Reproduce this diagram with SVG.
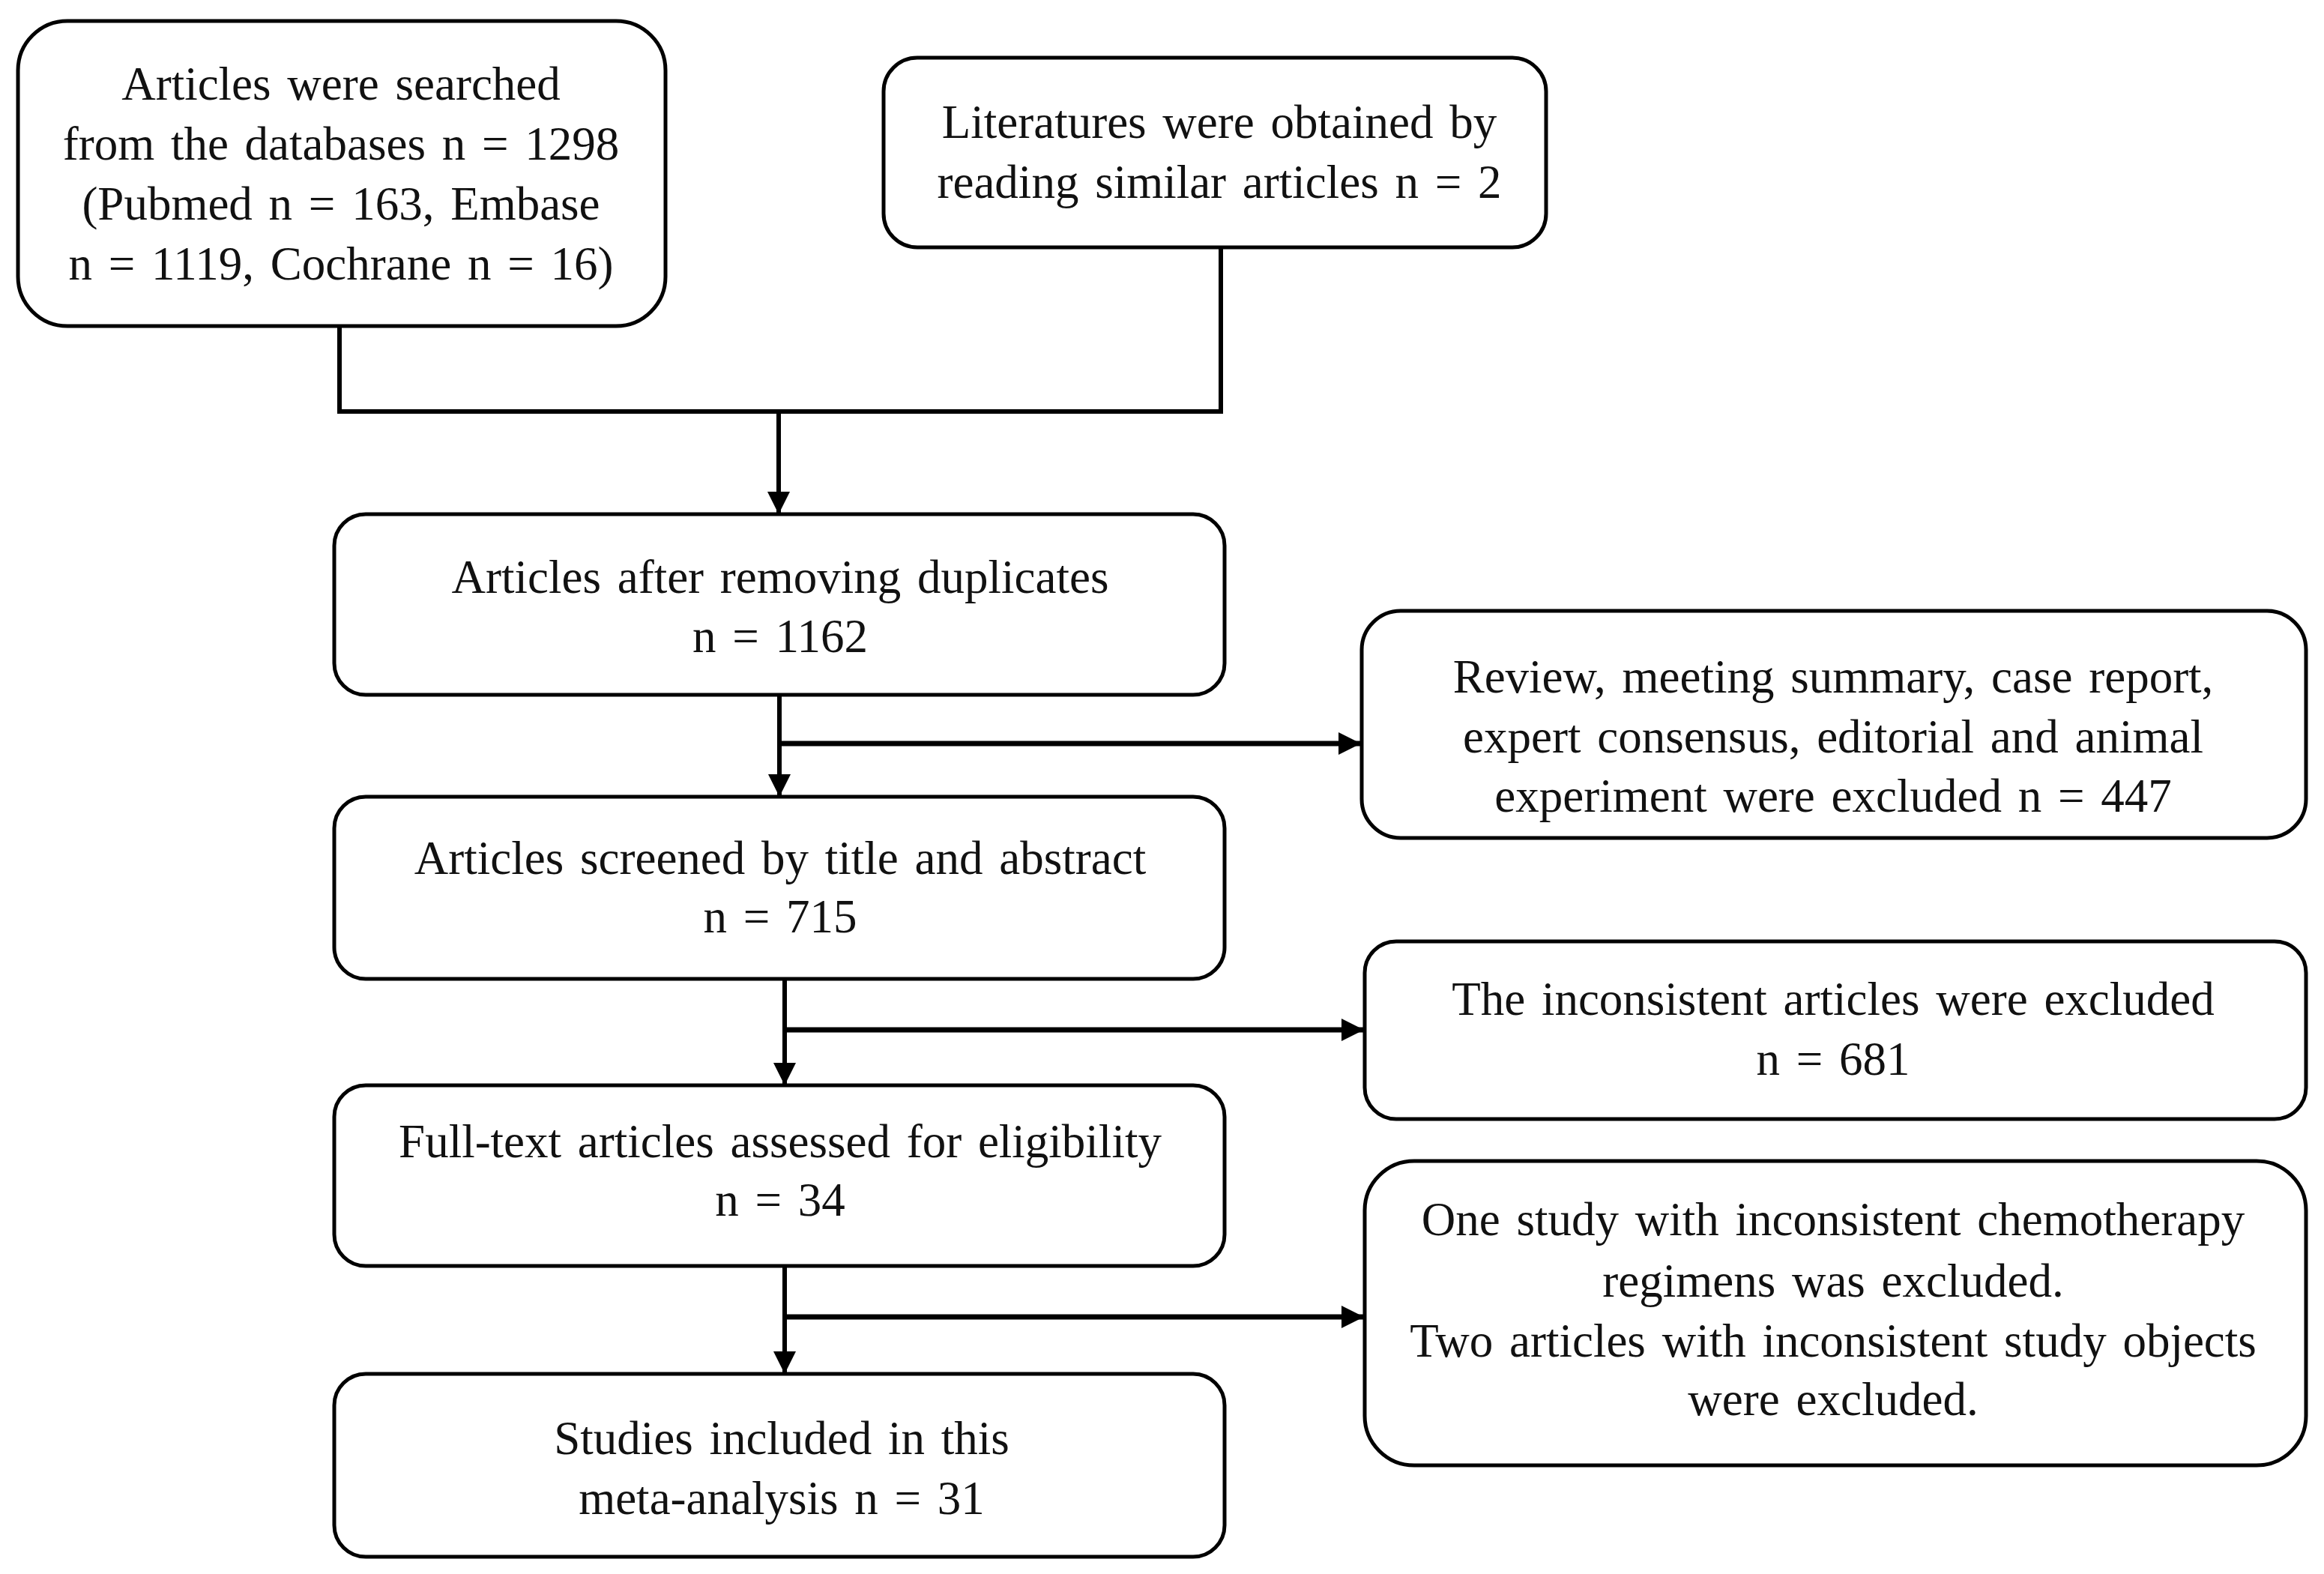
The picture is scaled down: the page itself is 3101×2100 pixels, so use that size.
<svg xmlns="http://www.w3.org/2000/svg" width="3101" height="2100" viewBox="0 0 3101 2100">
<style>
.box{fill:#fff;stroke:#000;stroke-width:5}
.t{font-family:"Liberation Serif","Times New Roman",serif;font-size:63px;fill:#111;text-anchor:middle;word-spacing:6px}
.c{fill:none;stroke:#000;stroke-width:6}
.ca{fill:none;stroke:#000;stroke-width:6;marker-end:url(#ah)}
.cb{fill:none;stroke:#000;stroke-width:7;marker-end:url(#ah)}
</style>
<defs>
<marker id="ah" markerUnits="userSpaceOnUse" markerWidth="32" markerHeight="32" refX="30" refY="15" orient="auto">
<path d="M0,0 L30,15 L0,30 z" fill="#000"/>
</marker>
</defs>
<rect width="3101" height="2100" fill="#fff"/>
<g id="connectors">
<path class="c" d="M453,435 V549 H1629 V330"/>
<path class="ca" d="M1039,549 V686"/>
<path class="ca" d="M1040,927 V1063"/>
<path class="cb" d="M1040,992 H1816"/>
<path class="ca" d="M1047,1306 V1448"/>
<path class="cb" d="M1047,1374 H1820"/>
<path class="ca" d="M1047,1689 V1833"/>
<path class="cb" d="M1047,1757 H1820"/>
</g>
<g id="n1">
<rect class="box" x="24" y="28" width="864" height="407" rx="66"/>
<text class="t" x="455" y="133">Articles were searched</text>
<text class="t" x="455" y="213">from the databases n = 1298</text>
<text class="t" x="455" y="293">(Pubmed n = 163, Embase</text>
<text class="t" x="455" y="373">n = 1119, Cochrane n = 16)</text>
</g>
<g id="n2">
<rect class="box" x="1179" y="77" width="884" height="253" rx="45"/>
<text class="t" x="1627" y="184">Literatures were obtained by</text>
<text class="t" x="1627" y="264">reading similar articles n = 2</text>
</g>
<g id="n3">
<rect class="box" x="446" y="686" width="1188" height="241" rx="42"/>
<text class="t" x="1041" y="791">Articles after removing duplicates</text>
<text class="t" x="1041" y="870">n = 1162</text>
</g>
<g id="n4">
<rect class="box" x="446" y="1063" width="1188" height="243" rx="42"/>
<text class="t" x="1041" y="1166">Articles screened by title and abstract</text>
<text class="t" x="1041" y="1244">n = 715</text>
</g>
<g id="n5">
<rect class="box" x="1817" y="815" width="1260" height="303" rx="52"/>
<text class="t" x="2446" y="924">Review, meeting summary, case report,</text>
<text class="t" x="2446" y="1004">expert consensus, editorial and animal</text>
<text class="t" x="2446" y="1083">experiment were excluded n = 447</text>
</g>
<g id="n6">
<rect class="box" x="1821" y="1256" width="1256" height="237" rx="42"/>
<text class="t" x="2446" y="1354">The inconsistent articles were excluded</text>
<text class="t" x="2446" y="1434">n = 681</text>
</g>
<g id="n7">
<rect class="box" x="446" y="1448" width="1188" height="241" rx="42"/>
<text class="t" x="1041" y="1544">Full-text articles assessed for eligibility</text>
<text class="t" x="1041" y="1622">n = 34</text>
</g>
<g id="n8">
<rect class="box" x="1821" y="1549" width="1256" height="406" rx="66"/>
<text class="t" x="2446" y="1648">One study with inconsistent chemotherapy</text>
<text class="t" x="2446" y="1730">regimens was excluded.</text>
<text class="t" x="2446" y="1810">Two articles with inconsistent study objects</text>
<text class="t" x="2446" y="1888">were excluded.</text>
</g>
<g id="n9">
<rect class="box" x="446" y="1833" width="1188" height="244" rx="42"/>
<text class="t" x="1043" y="1940">Studies included in this</text>
<text class="t" x="1043" y="2020">meta-analysis n = 31</text>
</g>
</svg>
